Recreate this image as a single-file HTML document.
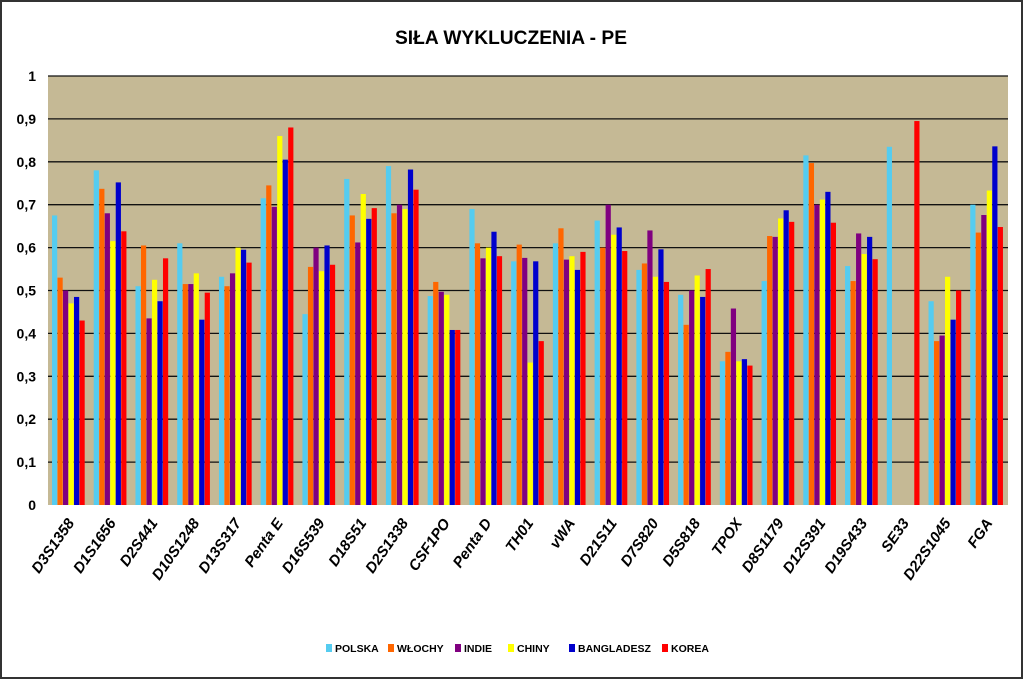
<!DOCTYPE html>
<html><head><meta charset="utf-8"><style>
body{margin:0;background:#fff;}
#c{position:relative;width:1023px;height:679px;box-sizing:border-box;border:2px solid #333;background:#fff;font-family:"Liberation Sans",sans-serif;}
</style></head><body>
<div id="c">
<svg id="s" width="1019" height="675" xmlns="http://www.w3.org/2000/svg"></svg>
</div>
<script>
const categories=["D3S1358","D1S1656","D2S441","D10S1248","D13S317","Penta E","D16S539","D18S51","D2S1338","CSF1PO","Penta D","TH01","vWA","D21S11","D7S820","D5S818","TPOX","D8S1179","D12S391","D19S433","SE33","D22S1045","FGA"];
const seriesNames=["POLSKA","WŁOCHY","INDIE","CHINY","BANGLADESZ","KOREA"];
const seriesColors=["#55ccf0","#ff6600","#800080","#ffff00","#0000cc","#ff0000"];
const polska=[.675,.78,.51,.61,.532,.715,.445,.76,.79,.487,.69,.568,.61,.663,.548,.49,.335,.522,.815,.557,.835,.475,.70];
const wlochy=[.53,.737,.605,.515,.51,.745,.555,.675,.68,.52,.61,.607,.645,.6,.563,.42,.357,.627,.797,.522,0,.382,.635];
const indie=[.5,.68,.435,.515,.54,.695,.6,.612,.7,.497,.575,.576,.572,.7,.64,.5,.458,.625,.7,.633,0,.395,.676];
const chiny=[.47,.615,.525,.54,.6,.86,.545,.725,.69,.49,.6,.332,.58,.63,.532,.535,.335,.668,.712,.585,0,.532,.733];
const bangladesz=[.485,.752,.475,.432,.595,.805,.605,.667,.782,.408,.637,.568,.548,.647,.596,.485,.34,.687,.73,.625,0,.432,.836];
const korea=[.43,.638,.575,.495,.565,.88,.56,.692,.735,.408,.58,.382,.59,.592,.52,.55,.325,.66,.658,.573,.895,.5,.648];
const series=[polska,wlochy,indie,chiny,bangladesz,korea];
const yTicks=["0","0,1","0,2","0,3","0,4","0,5","0,6","0,7","0,8","0,9","1"];
const yTickVals=[0,.1,.2,.3,.4,.5,.6,.7,.8,.9,1];

const NS="http://www.w3.org/2000/svg";
const svg=document.getElementById('s');
const L=46,R=1006,T=74,B=503;
const yS=v=>B-(v)*(B-T);
const gw=(R-L)/categories.length;
const bw=5.5;
function mk(t,a){const e=document.createElementNS(NS,t);for(const k in a)e.setAttribute(k,a[k]);svg.appendChild(e);return e;}
const bg=mk('rect',{x:L,y:T,width:R-L,height:B-T,fill:'#c5b995'});


yTickVals.forEach((v,i)=>{
 if(v>0){const g=mk('line',{x1:L,x2:R,y1:yS(v),y2:yS(v),stroke:'#111','stroke-width':1.3});
 
 }
 const t=mk('text',{x:L-12,y:yS(v)+5,'text-anchor':'end','font-size':14,'font-weight':'bold',fill:'#000'});
 t.textContent=yTicks[i];
 
 
});
categories.forEach((c,i)=>{
 const x0=L+i*gw+4;
 series.forEach((s,j)=>{
  const v=s[i]; if(!v) return;
  const r=mk('rect',{x:x0+j*bw,y:yS(v),width:bw-0.3,height:B-yS(v),fill:seriesColors[j]});
  
  
 });
 const cx=L+i*gw+gw/2+6;
 const ty=B+18;
 const t=mk('text',{x:cx,y:ty,'text-anchor':'end','font-size':15,'font-weight':'bold','font-style':'italic',transform:`rotate(-55 ${cx} ${ty})`});
 t.textContent=c;
 
 
});
const ti=mk('text',{x:509,y:42,'text-anchor':'middle','font-size':19,'font-weight':'bold',textLength:232,lengthAdjust:'spacingAndGlyphs'});
ti.textContent="SIŁA WYKLUCZENIA - PE";


const lx=[324,386,453,506,567,660];
seriesNames.forEach((n,j)=>{
 const g=mk('g',{});
 
 
 const r=document.createElementNS(NS,'rect');r.setAttribute('x',lx[j]);r.setAttribute('y',642);r.setAttribute('width',6);r.setAttribute('height',8);r.setAttribute('fill',seriesColors[j]);g.appendChild(r);
 const t=document.createElementNS(NS,'text');t.setAttribute('x',lx[j]+9);t.setAttribute('y',650);t.setAttribute('font-size',10.5);t.setAttribute('font-weight','bold');t.textContent=n;g.appendChild(t);
});
</script>
</body></html>
